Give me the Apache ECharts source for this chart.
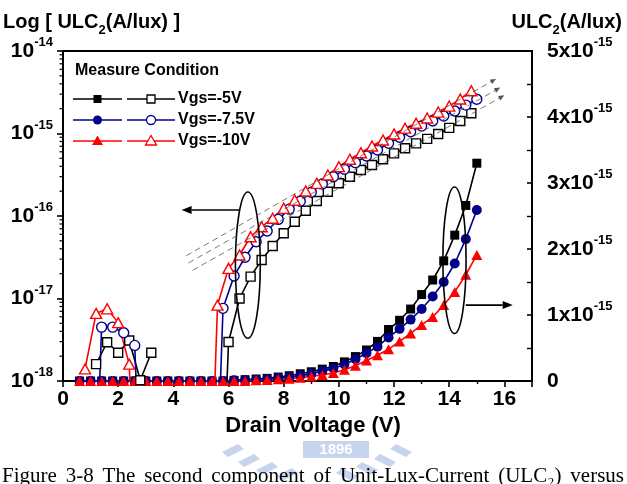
<!DOCTYPE html>
<html>
<head>
<meta charset="utf-8">
<script src="https://cdn.jsdelivr.net/npm/echarts@6/dist/echarts.min.js"></script>
<style>
html, body { margin: 0; padding: 0; background: #fff; }
#main { width: 627px; height: 484px; }
</style>
</head>
<body>
<div id="main"></div>
<script>
// drain voltage (V) grids used by the measurement
const xA = [0.8, 1.2, 1.6, 2.0, 2.4, 2.8, 3.2, 3.6, 4.0, 4.4, 4.8, 5.2, 5.6, 6.0, 6.4, 6.8, 7.2, 7.6,
  8.0, 8.4, 8.8, 9.2, 9.6, 10.0, 10.4, 10.8, 11.2, 11.6, 12.0, 12.4, 12.8, 13.2, 13.6, 14.0, 14.4, 14.8];
const xB = [0.6, 1.0, 1.4, 1.8, 2.2, 2.6, 3.0, 3.4, 3.8, 4.2, 4.6, 5.0, 5.4, 5.8, 6.2, 6.6, 7.0, 7.4, 7.8,
  8.2, 8.6, 9.0, 9.4, 9.8, 10.2, 10.6, 11.0, 11.4, 11.8, 12.2, 12.6, 13.0, 13.4, 13.8, 14.2, 14.6, 15.0];

const BELOW = 1e-21; // under the 1e-18 floor -> line runs off the bottom

// open symbols, left log axis, ULC2 (A/lux)
const openM5 = [null, 1.6e-18, 2.95e-18, 2.2e-18, 3.1e-18, 1.02e-18, 2.2e-18, null, null, null, null, null,
  BELOW, 2.97e-18, 1.0e-17, 1.84e-17, 2.93e-17, 4.33e-17, 6.17e-17, 8.53e-17, 1.16e-16, 1.52e-16, 1.97e-16,
  2.49e-16, 2.99e-16, 3.61e-16, 4.15e-16, 4.87e-16, 5.75e-16, 6.62e-16, 7.6e-16, 8.6e-16, 9.86e-16,
  1.17e-15, 1.42e-15, 1.76e-15];
const openM75 = [null, BELOW, 4.5e-18, 4.5e-18, 3.85e-18, 2.7e-18, BELOW, null, null, null, null, null,
  BELOW, 7.6e-18, 1.87e-17, 3.16e-17, 4.88e-17, 6.58e-17, 9.1e-17, 1.21e-16, 1.51e-16, 1.94e-16, 2.44e-16,
  2.99e-16, 3.68e-16, 4.43e-16, 5.33e-16, 6.3e-16, 7.6e-16, 9.0e-16, 1.05e-15, 1.23e-15, 1.42e-15,
  1.63e-15, 1.87e-15, 2.21e-15, 2.6e-15];
const openM10 = [1.4e-18, 6.6e-18, 7.5e-18, 5.1e-18, 1.6e-18, BELOW, null, null, null, null, null,
  BELOW, 8.3e-18, 2.32e-17, 3.37e-17, 5.6e-17, 7.4e-17, 9.4e-17, 1.24e-16, 1.56e-16, 2.01e-16, 2.49e-16,
  3.14e-16, 3.96e-16, 4.87e-16, 5.85e-16, 7.05e-16, 8.34e-16, 9.86e-16, 1.16e-15, 1.33e-15, 1.54e-15,
  1.82e-15, 2.15e-15, 2.62e-15, 3.3e-15];

// filled symbols, right linear axis, in units of 1e-15 A/lux
const fillM5 = [0, 0, 0, 0, 0, 0, 0, 0, 0, 0, 0, 0, 0, 0, 0.01, 0.02, 0.03, 0.04, 0.06, 0.08, 0.11, 0.14,
  0.18, 0.22, 0.29, 0.37, 0.47, 0.60, 0.78, 0.92, 1.09, 1.31, 1.53, 1.82, 2.21, 2.66, 3.30];
const fillM75 = [0, 0, 0, 0, 0, 0, 0, 0, 0, 0, 0, 0, 0, 0, 0.01, 0.015, 0.02, 0.03, 0.045, 0.06, 0.08, 0.11,
  0.15, 0.19, 0.25, 0.33, 0.42, 0.52, 0.66, 0.79, 0.93, 1.09, 1.28, 1.50, 1.78, 2.15, 2.59];
const fillM10 = [0, 0, 0, 0, 0, 0, 0, 0, 0, 0, 0, 0, 0, 0, 0, 0, 0.01, 0.015, 0.025, 0.035, 0.05, 0.07,
  0.09, 0.12, 0.17, 0.23, 0.31, 0.39, 0.48, 0.60, 0.72, 0.85, 0.97, 1.15, 1.35, 1.61, 1.91];

const legendNames = ['Vgs=-5V', 'Vgs=-7.5V', 'Vgs=-10V'];
const colors = ['#000000', '#00008b', '#ff0000'];
const symbols = ['rect', 'circle', 'triangle'];
const symbolSizes = [9, 10, [11, 10]];
const logExponents = [-18, -17, -16, -15, -14];
const minorMantissa = [2, 3, 4, 5, 6, 7, 8, 9];

const FONT = '"Liberation Sans", Arial, Helvetica, sans-serif';
const SERIF = '"Liberation Serif", "Times New Roman", serif';

const pairs = (xs, ys) => xs.map((x, i) => [x, ys[i]]);

function filledSeries(i, data) {
  return {
    name: legendNames[i], type: 'line', yAxisIndex: 1, data: data,
    symbol: symbols[i], symbolSize: symbolSizes[i], showAllSymbol: true,
    lineStyle: { color: colors[i], width: 1.6 },
    itemStyle: { color: colors[i], borderWidth: 0 },
    emphasis: { disabled: true }, silent: true, z: 3
  };
}
function openSeries(i, data) {
  return {
    name: legendNames[i] + ' log', type: 'line', yAxisIndex: 0, data: data,
    symbol: symbols[i], symbolSize: symbolSizes[i], showAllSymbol: true,
    lineStyle: { color: colors[i], width: 1.6 },
    itemStyle: { color: '#ffffff', borderColor: colors[i], borderWidth: 1.4 },
    emphasis: { disabled: true }, silent: true, z: 4
  };
}

const chart = echarts.init(document.getElementById('main'), null, { renderer: 'canvas' });

const option = {
  animation: false,
  backgroundColor: '#ffffff',
  grid: {
    left: 63, right: 95, top: 51, bottom: 103,
    show: true, borderColor: '#000', borderWidth: 2,
    outerBoundsMode: 'none'
  },
  xAxis: {
    type: 'value', min: 0, max: 17, interval: 2,
    axisLine: { show: true, onZero: false, lineStyle: { color: '#000', width: 2 } },
    axisTick: { show: true, inside: false, length: 6, lineStyle: { color: '#000', width: 1.6 } },
    minorTick: { show: true, splitNumber: 2, length: 3, lineStyle: { color: '#000', width: 1.4 } },
    splitLine: { show: false },
    axisLabel: {
      margin: 8, color: '#000', fontFamily: FONT, fontWeight: 'bold', fontSize: 21,
      showMaxLabel: false,
      formatter: v => (v % 2 === 0 ? String(v) : '')
    }
  },
  yAxis: [
    {
      type: 'log', logBase: 10, min: 1e-18, max: 1e-14, position: 'left',
      axisLine: { show: true, onZero: false, lineStyle: { color: '#000', width: 2 } },
      axisTick: { show: true, inside: false, length: 6, lineStyle: { color: '#000', width: 1.6 } },
      minorTick: { show: false },
      splitLine: { show: false },
      axisLabel: {
        margin: 10, color: '#000',
        formatter: v => '{b|10}{s|' + Math.round(Math.log10(v)) + '}',
        rich: {
          b: { fontFamily: FONT, fontWeight: 'bold', fontSize: 21, lineHeight: 30 },
          s: { fontFamily: FONT, fontWeight: 'bold', fontSize: 13, lineHeight: 14, verticalAlign: 'top' }
        }
      }
    },
    {
      type: 'value', min: 0, max: 5, interval: 1, position: 'right',
      axisLine: { show: true, onZero: false, lineStyle: { color: '#000', width: 2 } },
      axisTick: { show: true, inside: true, length: 5, lineStyle: { color: '#000', width: 1.6 } },
      minorTick: { show: true, splitNumber: 2, length: 5, lineStyle: { color: '#000', width: 1.4 } },
      splitLine: { show: false },
      axisLabel: {
        margin: 15, color: '#000',
        formatter: v => (v === 0 ? '{b|0}' : '{b|' + v + 'x10}{s|-15}'),
        rich: {
          b: { fontFamily: FONT, fontWeight: 'bold', fontSize: 21, lineHeight: 30 },
          s: { fontFamily: FONT, fontWeight: 'bold', fontSize: 13, lineHeight: 14, verticalAlign: 'top' }
        }
      }
    }
  ],
  series: [
    filledSeries(0, pairs(xB, fillM5)),
    filledSeries(1, pairs(xB, fillM75)),
    filledSeries(2, pairs(xB, fillM10)),
    openSeries(0, pairs(xA, openM5)),
    openSeries(1, pairs(xB, openM75)),
    openSeries(2, pairs(xA, openM10))
  ]
};
chart.setOption(option);

// ---- annotations, placed in data space ----
const toL = (x, y) => chart.convertToPixel({ xAxisIndex: 0, yAxisIndex: 0 }, [x, y]);
const toR = (x, y) => chart.convertToPixel({ xAxisIndex: 0, yAxisIndex: 1 }, [x, y]);

const g = [];
function line(p1, p2, w, color, dash) {
  g.push({ type: 'line', silent: true, z: 10,
    shape: { x1: p1[0], y1: p1[1], x2: p2[0], y2: p2[1] },
    style: { stroke: color || '#000', lineWidth: w || 1.5, lineDash: dash || null } });
}
function arrow(p1, p2, w, color, dash, hl, hw) {
  const dx = p2[0] - p1[0], dy = p2[1] - p1[1];
  const len = Math.sqrt(dx * dx + dy * dy);
  const ux = dx / len, uy = dy / len;
  const bx = p2[0] - ux * hl, by = p2[1] - uy * hl;
  line(p1, [bx, by], w, color, dash);
  g.push({ type: 'polygon', silent: true, z: 10,
    shape: { points: [p2, [bx - uy * hw, by + ux * hw], [bx + uy * hw, by - ux * hw]] },
    style: { fill: color || '#000' } });
}
function ellipse(c, rx, ry) {
  g.push({ type: 'ellipse', silent: true, z: 10,
    shape: { cx: c[0], cy: c[1], rx: rx, ry: ry },
    style: { fill: null, stroke: '#000', lineWidth: 1.6 } });
}

// left ellipse + arrow pointing to the log axis
{
  const top = toL(6.7, 1.95e-16), bot = toL(6.7, 3.3e-18), side = toL(7.15, 1e-17);
  ellipse([top[0], (top[1] + bot[1]) / 2], side[0] - top[0], (bot[1] - top[1]) / 2);
  arrow(toL(6.4, 1.18e-16), toL(4.3, 1.18e-16), 1.6, '#000', null, 10, 4);
}
// right ellipse + arrow pointing to the linear axis
{
  const top = toR(14.19, 2.94), bot = toR(14.19, 0.72), side = toR(14.61, 1);
  ellipse([top[0], (top[1] + bot[1]) / 2], side[0] - top[0], (bot[1] - top[1]) / 2);
  arrow(toR(14.6, 1.15), toR(16.3, 1.15), 1.6, '#000', null, 10, 4);
}
// three dashed guide lines
[[4.47, 3.3e-17, 15.7, 4.6e-15], [4.55, 2.7e-17, 15.85, 3.6e-15], [4.7, 2.2e-17, 16.0, 2.9e-15]].forEach(d => {
  arrow(toL(d[0], d[1]), toL(d[2], d[3]), 0.8, '#555', [6, 4], 6, 2.5);
});

// minor ticks on the log axis (2..9 per decade)
{
  const x0 = toL(0, 1e-18)[0];
  logExponents.slice(0, -1).forEach(e => {
    minorMantissa.forEach(m => {
      const y = toL(0, m * Math.pow(10, e))[1];
      line([x0 - 3.5, y], [x0, y], 1.2, '#000');
    });
  });
}

// legend block
function symbolShape(i, cx, cy, filled) {
  const st = filled ? { fill: colors[i] } : { fill: '#fff', stroke: colors[i], lineWidth: 1.3 };
  if (i === 0) g.push({ type: 'rect', z: 11, shape: { x: cx - 4, y: cy - 4, width: 8, height: 8 }, style: st });
  else if (i === 1) g.push({ type: 'circle', z: 11, shape: { cx: cx, cy: cy, r: 4.5 }, style: st });
  else g.push({ type: 'polygon', z: 11, shape: { points: [[cx, cy - 5.5], [cx + 5.5, cy + 4], [cx - 5.5, cy + 4]] }, style: st });
}
g.push({ type: 'text', z: 11, style: { x: 75, y: 71, text: 'Measure Condition', font: 'bold 16px ' + FONT,
  fill: '#000', textAlign: 'left', textVerticalAlign: 'middle' } });
[99, 120, 141].forEach((y, i) => {
  line([73, y], [122, y], 1.6, colors[i]);
  symbolShape(i, 97.5, y, true);
  line([127, y], [175, y], 1.6, colors[i]);
  symbolShape(i, 151, y, false);
  g.push({ type: 'text', z: 11, style: { x: 178, y: y, text: legendNames[i], font: 'bold 16px ' + FONT,
    fill: '#000', textAlign: 'left', textVerticalAlign: 'middle' } });
});

// axis titles
const titleRich = {
  a: { fontFamily: FONT, fontWeight: 'bold', fontSize: 20, lineHeight: 30 },
  s: { fontFamily: FONT, fontWeight: 'bold', fontSize: 13, lineHeight: 12, verticalAlign: 'bottom' }
};
g.push({ type: 'text', z: 11, style: { x: 3, y: 22, text: '{a|Log [ ULC}{s|2}{a|(A/lux) ]}', rich: titleRich,
  fill: '#000', textAlign: 'left', textVerticalAlign: 'middle' } });
g.push({ type: 'text', z: 11, style: { x: 622, y: 22, text: '{a|ULC}{s|2}{a|(A/lux)}', rich: titleRich,
  fill: '#000', textAlign: 'right', textVerticalAlign: 'middle' } });

// faint watermark logo behind the axis title
{
  const wm = '#c6d4ee';
  g.push({ type: 'rect', z: 0, shape: { x: 303, y: 441, width: 66, height: 17 }, style: { fill: wm } });
  g.push({ type: 'text', z: 1, style: { x: 336, y: 450, text: '1896', font: 'bold 15px ' + FONT, fill: '#ffffff',
    textAlign: 'center', textVerticalAlign: 'middle' } });
  [[222, 452], [238, 462], [256, 470], [276, 476]].forEach(p => {
    g.push({ type: 'polygon', z: 0, shape: { points: [[p[0], p[1]], [p[0] + 16, p[1] - 8], [p[0] + 22, p[1] - 3], [p[0] + 6, p[1] + 5]] },
      style: { fill: wm } });
  });
  [[412, 452], [396, 462], [378, 470], [358, 476]].forEach(p => {
    g.push({ type: 'polygon', z: 0, shape: { points: [[p[0], p[1]], [p[0] - 16, p[1] - 8], [p[0] - 22, p[1] - 3], [p[0] - 6, p[1] + 5]] },
      style: { fill: wm } });
  });
}

g.push({ type: 'text', z: 11, style: { x: 313, y: 426, text: 'Drain Voltage (V)', font: 'bold 22px ' + FONT,
  fill: '#000', textAlign: 'center', textVerticalAlign: 'middle' } });

// caption, justified across the page and cut by the bottom edge
{
  const words = ['Figure', '3-8', 'The', 'second', 'component', 'of', 'Unit-Lux-Current', '(ULC\u2082)', 'versus'];
  const ctx = document.createElement('canvas').getContext('2d');
  ctx.font = '21px ' + SERIF;
  const widths = words.map(w => ctx.measureText(w).width);
  const total = widths.reduce((a, b) => a + b, 0);
  const gap = (624 - 2 - total) / (words.length - 1);
  let x = 2;
  words.forEach((w, i) => {
    g.push({ type: 'text', z: 11, style: { x: x, y: 466, text: w, font: '21px ' + SERIF, fill: '#000',
      textAlign: 'left', textVerticalAlign: 'top' } });
    x += widths[i] + gap;
  });
}

chart.setOption({ graphic: { elements: g } });
</script>
</body>
</html>
